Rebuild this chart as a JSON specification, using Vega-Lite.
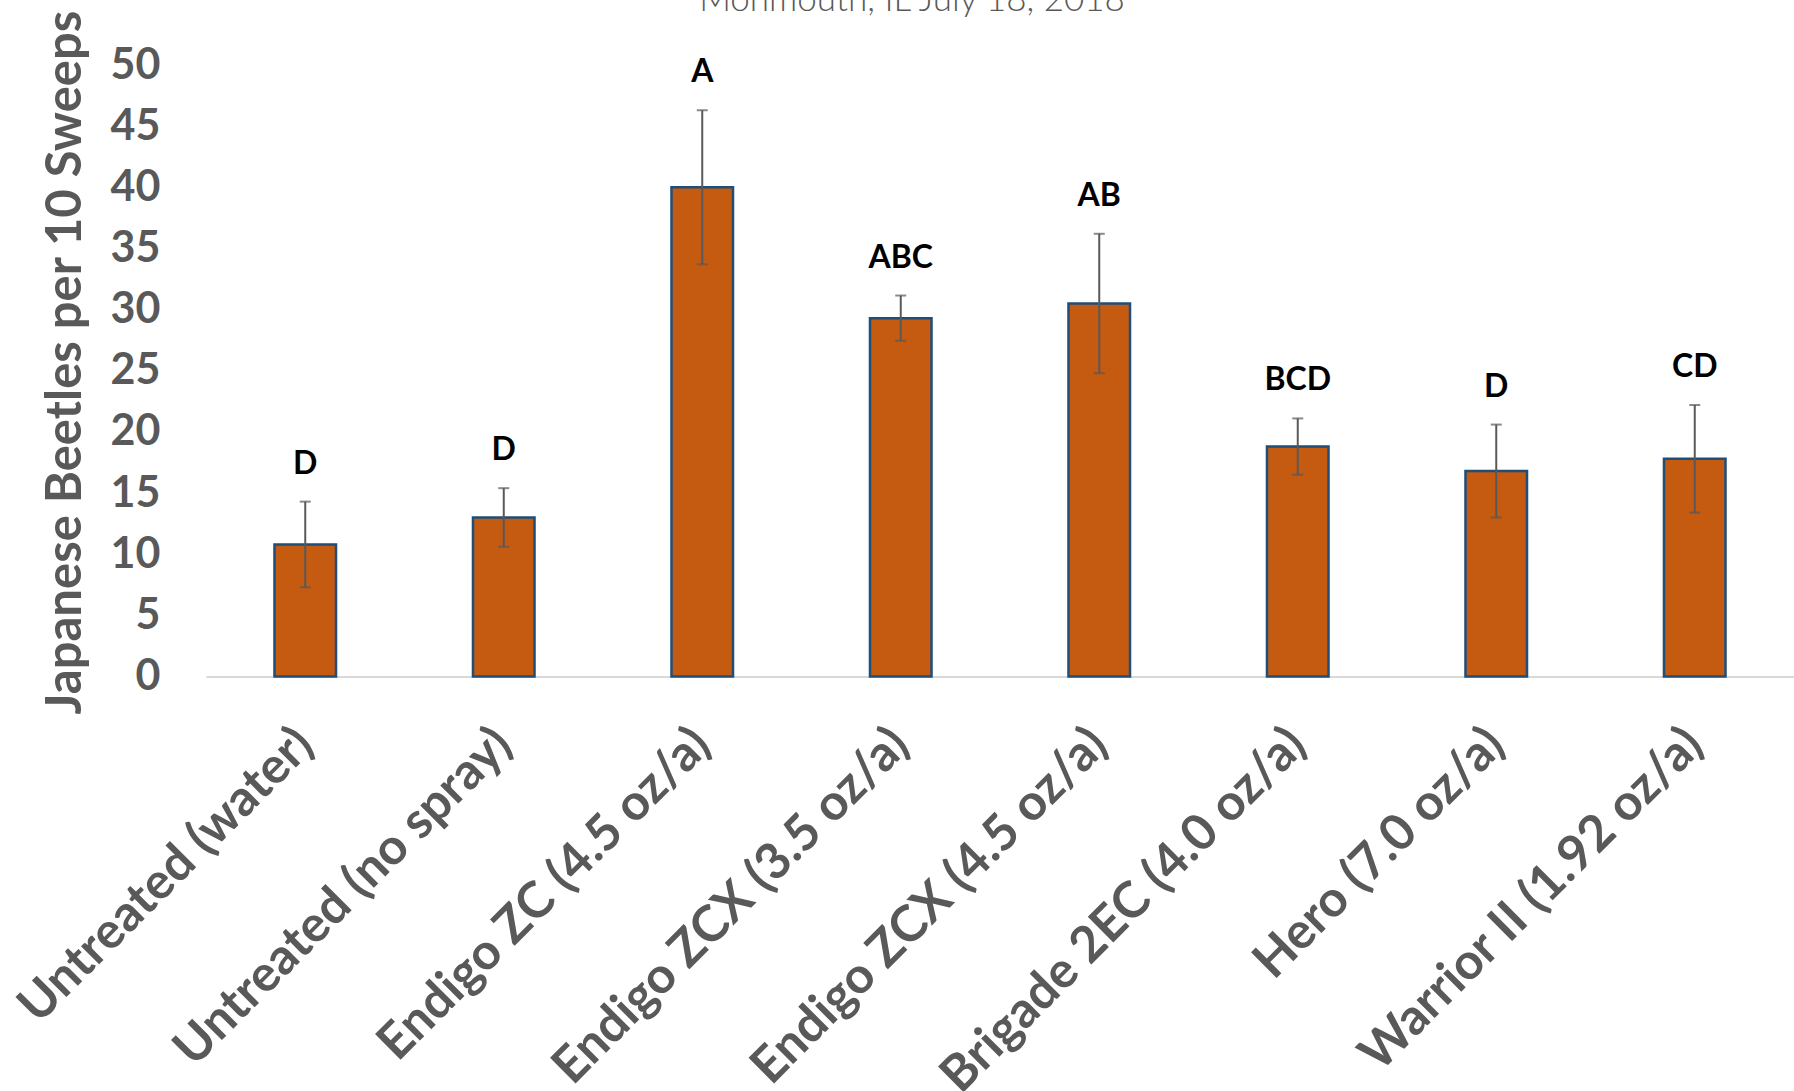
{
  "$schema": "https://vega.github.io/schema/vega-lite/v6.json",
  "width": 1588,
  "height": 611.5,
  "autosize": {"type": "none"},
  "padding": {"left": 206, "top": 65, "right": 0, "bottom": 414.5},
  "background": "#ffffff",
  "title": {
    "text": "Monmouth, IL July 18, 2018",
    "font": "Lato",
    "fontWeight": 300,
    "fontSize": 35,
    "color": "#595959",
    "anchor": "middle",
    "frame": "group",
    "baseline": "alphabetic",
    "dx": -88,
    "offset": 0,
    "dy": 36
  },
  "data": {
    "values": [
      {"treatment": "Untreated (water)", "mean": 10.8, "lower": 7.3, "upper": 14.3, "group": "D"},
      {"treatment": "Untreated (no spray)", "mean": 13.0, "lower": 10.6, "upper": 15.4, "group": "D"},
      {"treatment": "Endigo ZC (4.5 oz/a)", "mean": 40.0, "lower": 33.7, "upper": 46.3, "group": "A"},
      {"treatment": "Endigo ZCX (3.5 oz/a)", "mean": 29.3, "lower": 27.45, "upper": 31.15, "group": "ABC"},
      {"treatment": "Endigo ZCX (4.5 oz/a)", "mean": 30.5, "lower": 24.8, "upper": 36.2, "group": "AB"},
      {"treatment": "Brigade 2EC (4.0 oz/a)", "mean": 18.8, "lower": 16.5, "upper": 21.1, "group": "BCD"},
      {"treatment": "Hero (7.0 oz/a)", "mean": 16.8, "lower": 13.0, "upper": 20.6, "group": "D"},
      {"treatment": "Warrior II (1.92 oz/a)", "mean": 17.8, "lower": 13.4, "upper": 22.2, "group": "CD"}
    ]
  },
  "encoding": {
    "x": {
      "field": "treatment",
      "type": "nominal",
      "sort": null,
      "scale": {"paddingInner": 0, "paddingOuter": 0},
      "axis": {
        "title": null,
        "labelAngle": -45,
        "labelAlign": "right",
        "labelBaseline": "middle",
        "labelFont": "Lato",
        "labelFontWeight": "bold",
        "labelFontSize": 50,
        "labelColor": "#595959",
        "labelLimit": 0,
        "labelPadding": 60,
        "ticks": false,
        "domainColor": "#D9D9D9",
        "domainWidth": 2
      }
    }
  },
  "layer": [
    {
      "mark": {"type": "bar", "width": {"band": 0.31}, "fill": "#C55A11", "stroke": "#1F4E79", "strokeWidth": 2.5},
      "encoding": {
        "y": {
          "field": "mean",
          "type": "quantitative",
          "scale": {"domain": [0, 50], "nice": false},
          "axis": {
            "values": [0, 5, 10, 15, 20, 25, 30, 35, 40, 45, 50],
            "grid": false,
            "domain": false,
            "ticks": false,
            "labelPadding": 46,
            "labelFont": "Lato",
            "labelFontWeight": "bold",
            "labelFontSize": 43,
            "labelColor": "#595959",
            "title": "Japanese Beetles per 10 Sweeps",
            "titleFont": "Lato",
            "titleFontWeight": "bold",
            "titleFontSize": 49,
            "titleColor": "#595959",
            "titlePadding": 20,
            "titleY": 297
          }
        }
      }
    },
    {
      "mark": {"type": "rule", "color": "#595959", "strokeWidth": 2},
      "encoding": {
        "y": {"field": "lower", "type": "quantitative"},
        "y2": {"field": "upper"}
      }
    },
    {
      "mark": {"type": "tick", "color": "#595959", "thickness": 2, "size": 11},
      "encoding": {"y": {"field": "lower", "type": "quantitative"}}
    },
    {
      "mark": {"type": "tick", "color": "#595959", "thickness": 2, "size": 11},
      "encoding": {"y": {"field": "upper", "type": "quantitative"}}
    },
    {
      "mark": {"type": "text", "font": "Lato", "fontWeight": "bold", "fontSize": 32, "color": "#000000", "baseline": "alphabetic", "dy": -28},
      "encoding": {
        "y": {"field": "upper", "type": "quantitative"},
        "text": {"field": "group"}
      }
    }
  ],
  "config": {"view": {"stroke": null}}
}
